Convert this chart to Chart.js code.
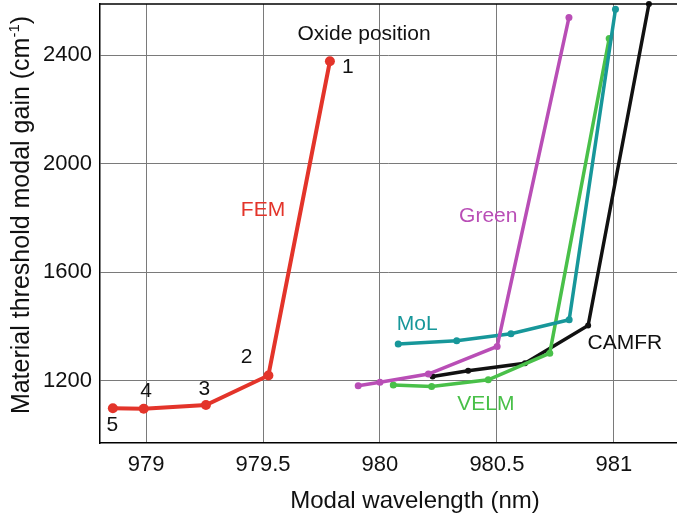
<!DOCTYPE html>
<html>
<head>
<meta charset="utf-8">
<script src="https://cdn.jsdelivr.net/npm/chart.js@4.4.1/dist/chart.umd.min.js"></script>
<style>
  html, body { margin: 0; padding: 0; background: #fff; }
  #wrap { width: 677px; height: 518px; }
</style>
</head>
<body>
<div id="wrap"><canvas id="gain" width="677" height="518"></canvas></div>
<script>
// modal wavelength (nm) and threshold gain (cm^-1) for each method
const femX    = [978.858, 978.99, 979.256, 979.523, 979.786];
const femY    = [1099, 1097, 1111, 1220, 2378];
const greenX  = [979.907, 980.0, 980.207, 980.501, 980.808];
const greenY  = [1182, 1195, 1225, 1327, 2539];
const molX    = [980.078, 980.328, 980.56, 980.809, 981.007];
const molY    = [1336, 1348, 1374, 1425, 2570];
const velmX   = [980.057, 980.221, 980.463, 980.726, 980.98];
const velmY   = [1185, 1179, 1204, 1302, 2462];
const camfrX  = [980.225, 980.377, 980.62, 980.89, 981.15];
const camfrY  = [1216, 1237, 1265, 1404, 2589];

const xTicks = [979, 979.5, 980, 980.5, 981];
const yTicks = [1200, 1600, 2000, 2400];

const FONT = '"Liberation Sans", Arial, Helvetica, sans-serif';

const COLORS = {
  fem: '#e3342a',
  green: '#b94eb6',
  mol: '#17979a',
  velm: '#49c049',
  camfr: '#111111',
};

// text annotations, placed in data coordinates
const notes = [
  { text: 'Oxide position', x: 979.932, y: 2479, color: '#111' },
  { text: '1', x: 979.863, y: 2355, color: '#111' },
  { text: '2', x: 979.43,  y: 1288, color: '#111' },
  { text: '3', x: 979.249, y: 1169, color: '#111' },
  { text: '4', x: 979.0,   y: 1161, color: '#111' },
  { text: '5', x: 978.856, y: 1035, color: '#111' },
  { text: 'FEM',   x: 979.5,   y: 1828, color: COLORS.fem },
  { text: 'Green', x: 980.463, y: 1807, color: COLORS.green },
  { text: 'MoL',   x: 980.159, y: 1409, color: COLORS.mol },
  { text: 'CAMFR', x: 981.047, y: 1339, color: COLORS.camfr },
  { text: 'VELM',  x: 980.453, y: 1115, color: COLORS.velm },
];

function pts(xs, ys) {
  return xs.map((x, i) => ({ x: x, y: ys[i] }));
}

function series(label, xs, ys, color, width, radius) {
  return {
    label: label,
    data: pts(xs, ys),
    borderColor: color,
    backgroundColor: color,
    borderWidth: width,
    pointRadius: radius,
    pointHoverRadius: radius,
    pointBorderWidth: 0,
    tension: 0,
    fill: false,
    clip: false,
  };
}

const labelsPlugin = {
  id: 'labels',
  afterDatasetsDraw(chart) {
    const ctx = chart.ctx;
    const xs = chart.scales.x, ys = chart.scales.y;
    const area = chart.chartArea;
    ctx.save();

    // top frame line
    ctx.strokeStyle = '#000';
    ctx.lineWidth = 1.5;
    ctx.beginPath();
    ctx.moveTo(area.left, area.top);
    ctx.lineTo(chart.width, area.top);
    ctx.stroke();

    ctx.font = '21px ' + FONT;
    ctx.textAlign = 'center';
    ctx.textBaseline = 'middle';
    notes.forEach(n => {
      ctx.fillStyle = n.color;
      ctx.fillText(n.text, xs.getPixelForValue(n.x), ys.getPixelForValue(n.y));
    });

    // x axis title
    ctx.fillStyle = '#111';
    ctx.font = '24px ' + FONT;
    ctx.textBaseline = 'alphabetic';
    ctx.fillText('Modal wavelength (nm)', 415, 508);

    // y axis title with superscript
    ctx.translate(29, 215);
    ctx.rotate(-Math.PI / 2);
    const main = 'Material threshold modal gain (cm';
    const sup = '-1';
    ctx.font = '25px ' + FONT;
    const w1 = ctx.measureText(main).width;
    const w3 = ctx.measureText(')').width;
    ctx.font = '15px ' + FONT;
    const w2 = ctx.measureText(sup).width;
    let x0 = -(w1 + w2 + w3) / 2;
    ctx.textAlign = 'left';
    ctx.font = '25px ' + FONT;
    ctx.fillText(main, x0, 0);
    ctx.font = '15px ' + FONT;
    ctx.fillText(sup, x0 + w1, -10);
    ctx.font = '25px ' + FONT;
    ctx.fillText(')', x0 + w1 + w2, 0);
    ctx.restore();
  }
};

new Chart(document.getElementById('gain'), {
  type: 'line',
  data: {
    datasets: [
      series('FEM', femX, femY, COLORS.fem, 4, 5),
      series('Green', greenX, greenY, COLORS.green, 3.5, 3.5),
      series('MoL', molX, molY, COLORS.mol, 3.5, 3.5),
      series('VELM', velmX, velmY, COLORS.velm, 3.5, 3.5),
      series('CAMFR', camfrX, camfrY, COLORS.camfr, 3.5, 3),
    ],
  },
  plugins: [labelsPlugin],
  options: {
    responsive: false,
    animation: false,
    events: [],
    layout: { autoPadding: false, padding: { top: 4, right: 0, left: 0, bottom: 0 } },
    plugins: {
      legend: { display: false },
      tooltip: { enabled: false },
    },
    scales: {
      x: {
        type: 'linear',
        min: 978.803,
        max: 981.27,
        afterBuildTicks: scale => { scale.ticks = xTicks.map(v => ({ value: v })); },
        afterFit: scale => {
          scale.height = 75;
          scale.paddingLeft = 0;
          scale.paddingRight = 0;
        },
        grid: { color: '#7a7a7a', lineWidth: 1, drawTicks: false },
        border: { color: '#000', width: 1.5 },
        ticks: {
          padding: 9,
          color: '#111',
          font: { family: FONT, size: 22 },
          maxRotation: 0,
          callback: v => `${v}`,
        },
      },
      y: {
        type: 'linear',
        min: 971,
        max: 2589,
        afterBuildTicks: scale => { scale.ticks = yTicks.map(v => ({ value: v })); },
        afterFit: scale => {
          scale.width = 100;
          scale.paddingTop = 0;
          scale.paddingBottom = 0;
        },
        grid: { color: '#7a7a7a', lineWidth: 1, drawTicks: false },
        border: { color: '#000', width: 1.5 },
        ticks: {
          padding: 8,
          color: '#111',
          font: { family: FONT, size: 22 },
          callback: v => `${v}`,
        },
      },
    },
  },
});
</script>
</body>
</html>
